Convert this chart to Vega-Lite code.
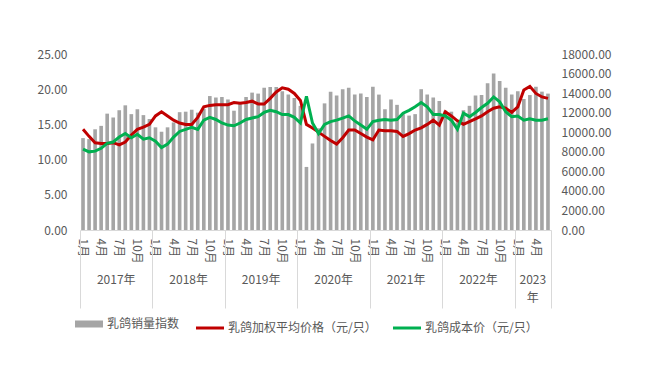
{
  "$schema": "https://vega.github.io/schema/vega-lite/v6.json",
  "width": 471,
  "height": 176,
  "autosize": {"type": "none"},
  "padding": {"left": 80, "top": 54, "right": 106, "bottom": 147},
  "background": "white",
  "config": {
    "view": {"stroke": null},
    "font": "Noto Sans CJK SC",
    "axis": {"labelColor": "#595959", "labelFontSize": 12, "labelFont": "Noto Sans CJK SC", "title": null, "grid": false, "ticks": false, "tickSize": 0, "domain": false}
  },
  "data": {"values": [
    {"d":"2017-01","sales":9400,"price":14.3,"cost":11.5},
    {"d":"2017-02","sales":9300,"price":13.3,"cost":11.1},
    {"d":"2017-03","sales":10300,"price":12.4,"cost":11.2},
    {"d":"2017-04","sales":10650,"price":12.3,"cost":11.6},
    {"d":"2017-05","sales":11900,"price":12.3,"cost":12.3},
    {"d":"2017-06","sales":11500,"price":12.4,"cost":12.5},
    {"d":"2017-07","sales":12250,"price":12.1,"cost":13.2},
    {"d":"2017-08","sales":12750,"price":12.5,"cost":13.7},
    {"d":"2017-09","sales":11850,"price":13.5,"cost":13.1},
    {"d":"2017-10","sales":12350,"price":14.3,"cost":13.6},
    {"d":"2017-11","sales":11750,"price":14.6,"cost":12.9},
    {"d":"2017-12","sales":11350,"price":15.0,"cost":13.1},
    {"d":"2018-01","sales":10500,"price":16.2,"cost":12.6},
    {"d":"2018-02","sales":10050,"price":16.8,"cost":11.7},
    {"d":"2018-03","sales":10500,"price":16.2,"cost":12.2},
    {"d":"2018-04","sales":11000,"price":15.6,"cost":13.2},
    {"d":"2018-05","sales":12050,"price":15.2,"cost":14.0},
    {"d":"2018-06","sales":12100,"price":15.0,"cost":14.3},
    {"d":"2018-07","sales":12300,"price":15.0,"cost":14.6},
    {"d":"2018-08","sales":12000,"price":16.0,"cost":14.3},
    {"d":"2018-09","sales":12400,"price":17.5,"cost":15.6},
    {"d":"2018-10","sales":13700,"price":17.7,"cost":16.0},
    {"d":"2018-11","sales":13550,"price":17.8,"cost":15.7},
    {"d":"2018-12","sales":13600,"price":17.8,"cost":15.2},
    {"d":"2019-01","sales":13350,"price":17.8,"cost":14.9},
    {"d":"2019-02","sales":12200,"price":18.1,"cost":14.8},
    {"d":"2019-03","sales":13100,"price":18.0,"cost":15.2},
    {"d":"2019-04","sales":13600,"price":18.1,"cost":15.7},
    {"d":"2019-05","sales":14050,"price":18.3,"cost":15.9},
    {"d":"2019-06","sales":13950,"price":17.9,"cost":16.1},
    {"d":"2019-07","sales":14550,"price":17.9,"cost":16.7},
    {"d":"2019-08","sales":14620,"price":18.7,"cost":17.0},
    {"d":"2019-09","sales":14620,"price":19.6,"cost":16.8},
    {"d":"2019-10","sales":14200,"price":20.2,"cost":16.4},
    {"d":"2019-11","sales":13850,"price":20.0,"cost":16.4},
    {"d":"2019-12","sales":13500,"price":19.4,"cost":16.0},
    {"d":"2020-01","sales":12700,"price":18.4,"cost":15.2},
    {"d":"2020-02","sales":6450,"price":15.0,"cost":19.0},
    {"d":"2020-03","sales":8850,"price":14.5,"cost":15.2},
    {"d":"2020-04","sales":10400,"price":13.9,"cost":13.7},
    {"d":"2020-05","sales":12950,"price":13.3,"cost":15.0},
    {"d":"2020-06","sales":14150,"price":12.7,"cost":15.4},
    {"d":"2020-07","sales":13750,"price":12.2,"cost":15.6},
    {"d":"2020-08","sales":14400,"price":13.1,"cost":15.9},
    {"d":"2020-09","sales":14550,"price":14.2,"cost":16.2},
    {"d":"2020-10","sales":13850,"price":14.2,"cost":15.5},
    {"d":"2020-11","sales":13950,"price":13.7,"cost":14.9},
    {"d":"2020-12","sales":13600,"price":13.2,"cost":14.3},
    {"d":"2021-01","sales":14650,"price":12.8,"cost":15.4},
    {"d":"2021-02","sales":13850,"price":14.2,"cost":15.6},
    {"d":"2021-03","sales":12350,"price":14.1,"cost":15.7},
    {"d":"2021-04","sales":13350,"price":14.1,"cost":15.6},
    {"d":"2021-05","sales":12800,"price":14.0,"cost":15.7},
    {"d":"2021-06","sales":11850,"price":13.3,"cost":16.6},
    {"d":"2021-07","sales":11700,"price":13.7,"cost":17.0},
    {"d":"2021-08","sales":11850,"price":14.2,"cost":17.5},
    {"d":"2021-09","sales":14400,"price":14.5,"cost":18.1},
    {"d":"2021-10","sales":13850,"price":15.0,"cost":17.5},
    {"d":"2021-11","sales":13550,"price":15.6,"cost":16.4},
    {"d":"2021-12","sales":13200,"price":14.9,"cost":16.4},
    {"d":"2022-01","sales":12200,"price":16.8,"cost":16.2},
    {"d":"2022-02","sales":12100,"price":16.2,"cost":15.6},
    {"d":"2022-03","sales":11000,"price":15.5,"cost":14.3},
    {"d":"2022-04","sales":12250,"price":15.0,"cost":16.6},
    {"d":"2022-05","sales":12700,"price":15.4,"cost":16.1},
    {"d":"2022-06","sales":13750,"price":15.8,"cost":16.7},
    {"d":"2022-07","sales":13800,"price":16.2,"cost":17.4},
    {"d":"2022-08","sales":15000,"price":16.8,"cost":18.0},
    {"d":"2022-09","sales":16000,"price":17.3,"cost":18.9},
    {"d":"2022-10","sales":15250,"price":17.5,"cost":18.2},
    {"d":"2022-11","sales":14550,"price":17.3,"cost":16.8},
    {"d":"2022-12","sales":13850,"price":16.7,"cost":16.1},
    {"d":"2023-01","sales":14200,"price":17.5,"cost":16.2},
    {"d":"2023-02","sales":13400,"price":19.9,"cost":15.6},
    {"d":"2023-03","sales":13800,"price":20.4,"cost":15.8},
    {"d":"2023-04","sales":14650,"price":19.4,"cost":15.6},
    {"d":"2023-05","sales":14150,"price":18.9,"cost":15.6},
    {"d":"2023-06","sales":13950,"price":18.7,"cost":15.8}
  ]},
  "layer": [
    {
      "mark": {"type": "bar"},
      "encoding": {
        "x": {"field": "d", "type": "ordinal", "sort": null,
          "scale": {"paddingInner": 0.4, "paddingOuter": 0.2},
          "axis": {
            "orient": "bottom",
            "values": ["2017-01","2017-04","2017-07","2017-10","2018-01","2018-04","2018-07","2018-10","2019-01","2019-04","2019-07","2019-10","2020-01","2020-04","2020-07","2020-10","2021-01","2021-04","2021-07","2021-10","2022-01","2022-04","2022-07","2022-10","2023-01","2023-04"],
            "labelExpr": "toNumber(slice(datum.value,5)) + '月'",
            "labelAngle": 90, "labelAlign": "left", "labelBaseline": "middle",
            "labelPadding": 8, "domain": true, "domainColor": "#D9D9D9", "labelFontSize": 12
          }},
        "y": {"field": "sales", "type": "quantitative",
          "scale": {"domain": [0, 18000]},
          "axis": {"orient": "right", "values": [0,2000,4000,6000,8000,10000,12000,14000,16000,18000], "format": ".2f", "labelPadding": 10}},
        "color": {"datum": "乳鸽销量指数",
          "scale": {"domain": ["乳鸽销量指数", "乳鸽加权平均价格（元/只）", "乳鸽成本价（元/只）"], "range": ["#A5A5A5", "#C00000", "#00B050"]},
          "legend": {
            "orient": "none", "legendX": 3, "legendY": 264, "direction": "horizontal", "title": null,
            "symbolType": "stroke", "symbolSize": 784, "symbolStrokeWidth": 3,
            "labelFontSize": 12, "labelColor": "#595959", "labelFont": "Noto Sans CJK SC",
            "columnPadding": 10, "labelOffset": 12, "padding": 0,
            "encode": {"symbols": {"update": {
              "stroke": {"scale": "color", "field": "value"},
              "strokeWidth": {"signal": "datum.value === '乳鸽销量指数' ? 7 : 3"}
            }}}
          }}
      }
    },
    {
      "mark": {"type": "line", "strokeWidth": 3},
      "encoding": {
        "x": {"field": "d", "type": "ordinal", "sort": null,
          "axis": {
            "orient": "bottom",
            "values": ["2017-06","2018-06","2019-06","2020-06","2021-06","2022-06","2023-03"],
            "labelExpr": "datum.value == '2023-03' ? ['2023', '年'] : slice(datum.value, 0, 4) + '年'",
            "labelAngle": 0, "labelAlign": "center", "labelBaseline": "top",
            "labelOffset": 3, "labelPadding": 44, "labelLineHeight": 18, "labelFontSize": 12
          }},
        "y": {"field": "price", "type": "quantitative",
          "scale": {"domain": [0, 25]},
          "axis": {"orient": "left", "values": [0,5,10,15,20,25], "format": ".2f", "labelPadding": 13}},
        "color": {"datum": "乳鸽加权平均价格（元/只）"}
      }
    },
    {
      "mark": {"type": "line", "strokeWidth": 3},
      "encoding": {
        "x": {"field": "d", "type": "ordinal", "sort": null,
          "axis": {
            "orient": "bottom",
            "values": ["2017-12","2018-12","2019-12","2020-12","2021-12","2022-12","2023-06"],
            "labels": false, "ticks": true, "tickOffset": 3.02, "tickSize": 78, "tickColor": "#D9D9D9"
          }},
        "y": {"field": "cost", "type": "quantitative", "scale": {"domain": [0, 25]}, "axis": null},
        "color": {"datum": "乳鸽成本价（元/只）"}
      }
    },
    {
      "mark": {"type": "point", "opacity": 0},
      "encoding": {
        "x": {"field": "d", "type": "ordinal", "sort": null,
          "axis": {
            "orient": "bottom",
            "values": ["2017-01"],
            "labels": false, "ticks": true, "tickOffset": -3.02, "tickSize": 78, "tickColor": "#D9D9D9"
          }},
        "y": {"field": "cost", "type": "quantitative", "scale": {"domain": [0, 25]}, "axis": null}
      }
    }
  ],
  "resolve": {"scale": {"y": "independent"}, "axis": {"x": "independent", "y": "independent"}}
}
